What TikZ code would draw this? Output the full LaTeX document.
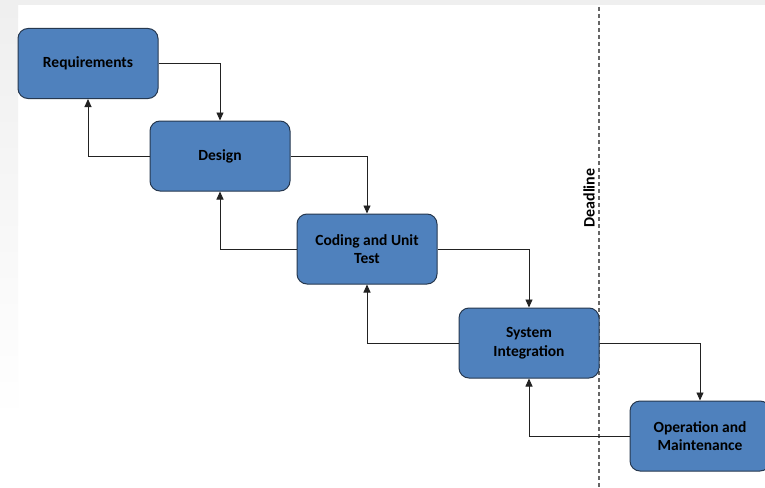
\documentclass[tikz,border=0pt]{standalone}
\usepackage{fontspec}
\setmainfont{Carlito}
\usetikzlibrary{arrows.meta}
\definecolor{boxblue}{HTML}{4F81BD}
\definecolor{boxedge}{HTML}{26384F}
\definecolor{linegray}{HTML}{222222}
\definecolor{frame}{HTML}{EFEFEF}
\tikzset{
  phase/.style={draw=boxedge, line width=1pt, fill=boxblue, rounded corners=10pt,
    minimum width=140pt, minimum height=70pt, align=center,
    font=\bfseries\fontsize{15.5}{18.5}\selectfont, text=black},
  flow/.style={draw=linegray, line width=0.9pt,
    -{Triangle[width=7pt,length=8pt]}},
  deadline/.style={draw=black!60, line width=1.1pt, dash pattern=on 4pt off 3pt}
}
\begin{document}
\begin{tikzpicture}[x=1pt,y=-1pt]
  \useasboundingbox (0,0) rectangle (765,487);
  % page background with the light grey frame
  \fill[white] (0,0) rectangle (765,487);
  \shade[top color=frame, bottom color=white] (0,5) rectangle (18,420);
  \fill[frame] (0,0) rectangle (765,5);

  % deadline marker
  \coordinate (dtop) at (599,7);
  \coordinate (dbot) at (599,487);
  \draw[deadline] (dtop) -- (dbot);
  \node[rotate=90, font=\bfseries\fontsize{16}{19}\selectfont] (dl) at (589,198) {Deadline};

  % phases
  \node[phase] (req) at (88,63.5) {Requirements};
  \node[phase] (des) at (220,156) {Design};
  \node[phase] (cod) at (367,249) {Coding and Unit\\Test};
  \node[phase] (sys) at (529,343) {System\\Integration};
  \node[phase] (ope) at (700,436) {Operation and\\Maintenance};

  % forward flow
  \draw[flow] (req.east) -| (des.north);
  \draw[flow] (des.east) -| (cod.north);
  \draw[flow] (cod.east) -| (sys.north);
  \draw[flow] (sys.east) -| (ope.north);

  % feedback flow
  \draw[flow] (des.west) -| (req.south);
  \draw[flow] (cod.west) -| (des.south);
  \draw[flow] (sys.west) -| (cod.south);
  \draw[flow] (ope.west) -| (sys.south);
\end{tikzpicture}
\end{document}
